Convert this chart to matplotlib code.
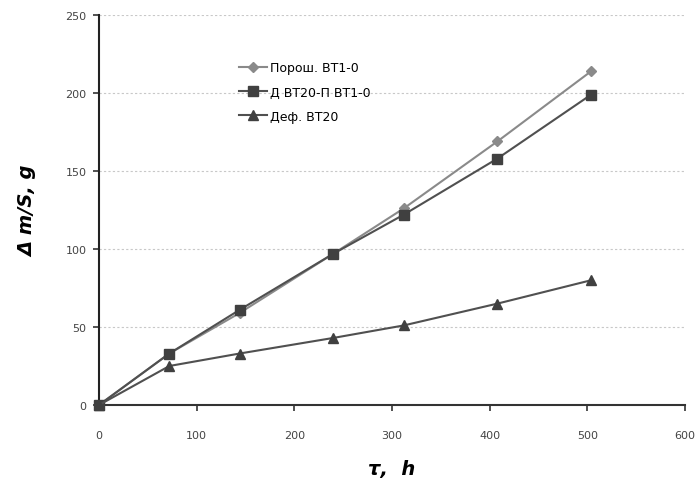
import matplotlib
matplotlib.use("Agg")
import matplotlib.pyplot as plt

hours = [0, 72, 144, 240, 312, 408, 504]
powder_vt1 = [0, 33, 59, 97, 126, 169, 214]
def_vt20_p_vt1 = [0, 33, 61, 97, 122, 158, 199]
def_vt20 = [0, 25, 33, 43, 51, 65, 80]
labels = ["Порош. ВТ1-0", "Д ВТ20-П ВТ1-0", "Деф. ВТ20"]
xticks = [0, 100, 200, 300, 400, 500, 600]
yticks = [0, 50, 100, 150, 200, 250]

fig = plt.figure(figsize=(6.99, 4.81), dpi=100)
ax = fig.add_axes([99/699, 75/481, 586/699, 390/481])

ax.plot(hours, powder_vt1, color="#8a8a8a", lw=1.5, marker="D", ms=5,
        mfc="#8a8a8a", mec="#8a8a8a", label=labels[0], clip_on=False, zorder=3)
ax.plot(hours, def_vt20_p_vt1, color="#505050", lw=1.5, marker="s", ms=7,
        mfc="#404040", mec="#404040", label=labels[1], clip_on=False, zorder=3)
ax.plot(hours, def_vt20, color="#505050", lw=1.5, marker="^", ms=7,
        mfc="#404040", mec="#404040", label=labels[2], clip_on=False, zorder=3)

ax.set_xlim(0, 600)
ax.set_ylim(0, 250)
ax.set_xticks(xticks)
ax.set_yticks(yticks)
ax.grid(axis="y", linestyle=(0, (2, 2)), color="#c8c8c8", lw=0.8)
ax.set_axisbelow(True)
for s in ["top", "right"]:
    ax.spines[s].set_visible(False)
ax.spines["left"].set_linewidth(1.5)
ax.spines["bottom"].set_linewidth(1.5)
ax.spines["bottom"].set_color("#333333")
ax.spines["left"].set_color("#222222")
ax.tick_params(axis="both", labelsize=8, labelcolor="#444444", colors="#333333",
               width=1.2, length=4)
ax.tick_params(axis="x", direction="out", length=4, pad=14)
ax.tick_params(axis="y", pad=5)

ax.set_xlabel("τ,  h", fontsize=14, fontweight="bold", fontstyle="italic", labelpad=14)
ax.set_ylabel("Δ m/S, g", fontsize=14, fontweight="bold", fontstyle="italic", labelpad=20)

ax.legend(loc="upper left", bbox_to_anchor=(0.22, 0.91), frameon=False,
          fontsize=9, handlelength=2.2, labelspacing=0.9, handletextpad=0.3)

fig.savefig("out.png", dpi=100)
